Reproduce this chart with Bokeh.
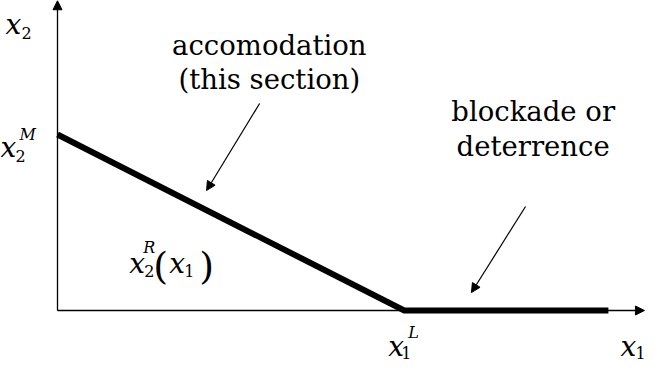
from bokeh.plotting import figure
from bokeh.models import Arrow, NormalHead, ColumnDataSource
from bokeh.core.properties import value, field
from bokeh.embed import file_html
from bokeh.resources import INLINE

# ---------------- data ----------------
# reaction function x2^R(x1): falls from x2^M to 0 at x1^L, then stays at 0
x1_values = [0.0, 1.0, 1.589]
x2_values = [1.0, 0.0, 0.0]
x2_M = x2_values[0]
x1_L = x1_values[1]

axis_x_max = 1.693
axis_y_max = 1.76

callout_lines_1 = ["accomodation", "(this section)"]
callout_lines_2 = ["blockade or", "deterrence"]

# math label texts
label_x2 = ["x", "2"]
label_x2M = ["x", "2", "M"]
label_x2R = ["x", "R", "2", "(", "x", "1", ")"]
label_x1L = ["x", "1", "L"]
label_x1 = ["x", "1"]

# ---------------- layout ----------------
W, H = 647, 365
FONT = value("DejaVu Serif")

p = figure(width=W, height=H, x_range=(-0.1644, 1.7018), y_range=(-0.3125, 1.7614),
           x_axis_type=None, y_axis_type=None, toolbar_location=None,
           output_backend="svg", min_border=0, outline_line_color=None,
           background_fill_color="white", border_fill_color="white")
p.grid.visible = False

# axes with arrow heads
axes_src = ColumnDataSource(dict(xs=[0.0, 0.0], ys=[0.0, 0.0],
                                 xe=[axis_x_max, 0.0], ye=[0.0, axis_y_max]))
p.add_layout(Arrow(source=axes_src, x_start="xs", y_start="ys", x_end="xe", y_end="ye",
                   line_width=1.3, line_color="black",
                   end=NormalHead(size=9, fill_color="black", line_color="black", line_width=1)))

# reaction function (thick)
p.line(x1_values, x2_values, line_width=6, line_color="black", line_join="miter", line_cap="butt")

# callout arrows (start x, start y, end x, end y)
callout_arrows = dict(xs=[0.583, 1.350], ys=[1.176, 0.591], xe=[0.430, 1.194], ye=[0.682, 0.102])
p.add_layout(Arrow(source=ColumnDataSource(callout_arrows), x_start="xs", y_start="ys",
                   x_end="xe", y_end="ye", line_width=1.2, line_color="black",
                   end=NormalHead(size=9, fill_color="black", line_color="black", line_width=1)))

# callout texts
cx = [0.611, 0.611, 1.372, 1.372]
cy = [1.506, 1.318, 1.131, 0.9375]
ct = callout_lines_1 + callout_lines_2
p.text(x=cx, y=cy, text=ct, text_font=FONT, text_font_size="27.5px",
       text_align="center", text_baseline="alphabetic", text_color="black")

# math labels: anchor in data units, pieces offset in pixels (dx, dy, size, style)
R_anchor = (0.207, 0.267)
label_defs = [
    ((0.0, axis_y_max), label_x2, [(-52, 24, 28, "italic"), (-36, 32, 16, "normal")]),
    ((0.0, x2_M), label_x2M, [(-57, 13, 28, "italic"), (-42, 21, 16, "normal"), (-38, 0, 16, "italic")]),
    (R_anchor, label_x2R, [(0, 0, 28, "italic"), (14, -16, 16, "italic"), (15, 7, 16, "normal"),
                           (24, 2, 38, "normal"), (40, 0, 28, "italic"), (55, 7, 16, "normal"),
                           (70, 2, 38, "normal")]),
    ((x1_L, 0.0), label_x1L, [(-16, 36, 28, "italic"), (-3, 42, 16, "normal"), (4, 22, 16, "italic")]),
    ((axis_x_max, 0.0), label_x1, [(-24, 36, 28, "italic"), (-9, 42, 16, "normal")]),
]

for style in ["italic", "normal"]:
    d = dict(x=[], y=[], text=[], dx=[], dy=[], size=[])
    for (ax, ay), texts, pieces in label_defs:
        for t, (dx, dy, sz, st) in zip(texts, pieces):
            if st != style:
                continue
            d["x"].append(ax)
            d["y"].append(ay)
            d["text"].append(t)
            d["dx"].append(dx)
            d["dy"].append(dy)
            d["size"].append(f"{sz}px")
    src = ColumnDataSource(d)
    p.text(x="x", y="y", text="text", x_offset="dx", y_offset="dy", source=src,
           text_font=FONT, text_font_size=field("size"),
           text_font_style=style, text_align="left", text_baseline="alphabetic",
           text_color="black")

open("out.html", "w").write(file_html(p, INLINE))
